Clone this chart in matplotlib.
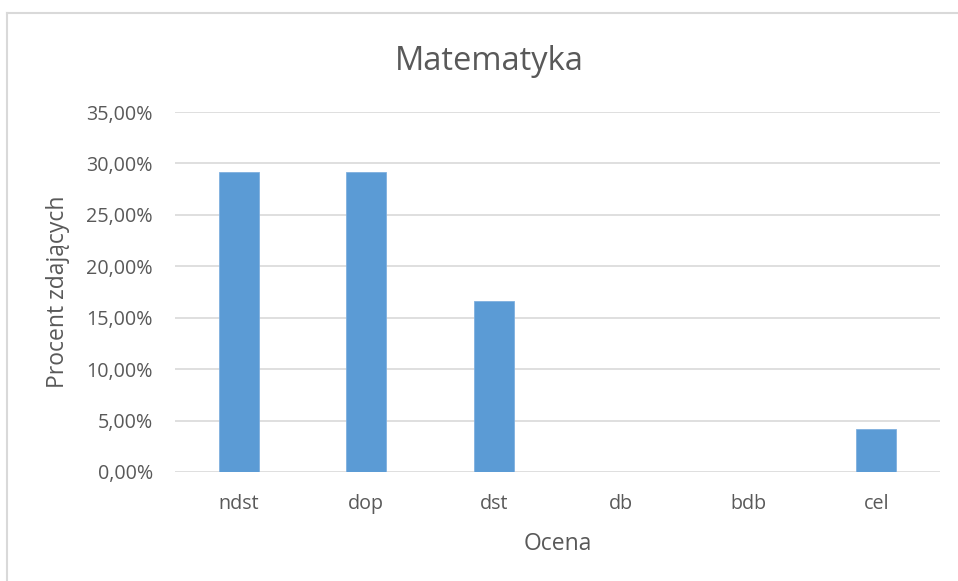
import matplotlib
matplotlib.use("Agg")
import matplotlib.pyplot as plt
from matplotlib.ticker import FuncFormatter, MultipleLocator
from matplotlib.lines import Line2D

categories = ["ndst", "dop", "dst", "db", "bdb", "cel"]
values = [29.17, 29.17, 16.67, 0.0, 0.0, 4.17]

plt.rcParams['font.family'] = ['Open Sans', 'DejaVu Sans']
text_col = "#595959"

fig = plt.figure(figsize=(9.58, 5.81), dpi=100)
W, H = 958, 581
ax = fig.add_axes([175 / W, 1 - 472 / H, (940 - 175) / W, (472 - 112) / H])

x = list(range(len(categories)))
ax.bar(x, values, width=0.31, color="#5B9BD5", edgecolor="#7FB0DF", linewidth=0.6, zorder=3)
ax.set_xlim(-0.5, len(categories) - 0.5)
ax.set_ylim(0, 35)
ax.yaxis.set_major_locator(MultipleLocator(5))
ax.yaxis.set_major_formatter(FuncFormatter(lambda v, p: f"{v:.2f}".replace(".", ",") + "%"))
ax.set_xticks(x)
ax.set_xticklabels(categories)
ax.grid(axis="y", color="#D9D9D9", linewidth=1.2, zorder=0)
for s in ax.spines.values():
    s.set_visible(False)
ax.tick_params(axis="both", length=0, colors=text_col, labelsize=14.2)
ax.tick_params(axis="y", pad=16)
ax.tick_params(axis="x", pad=16)

fig.text(489 / W, 1 - 61 / H, "Matematyka", fontsize=23.5, color=text_col, ha="center", va="center")
fig.text(558 / W, 1 - 544 / H, "Ocena", fontsize=16.5, color=text_col, ha="center", va="center")
fig.text(58 / W, 1 - 292 / H, "Procent zdających", fontsize=16.5, color=text_col,
         ha="center", va="center", rotation=90)

# chart-area border (top and left visible)
fig.add_artist(Line2D([7 / W, 1.0], [1 - 13 / H, 1 - 13 / H], color="#D9D9D9", linewidth=1.5, transform=fig.transFigure))
fig.add_artist(Line2D([7 / W, 7 / W], [0, 1 - 13 / H], color="#D9D9D9", linewidth=1.5, transform=fig.transFigure))

fig.savefig("out.png", dpi=100)
